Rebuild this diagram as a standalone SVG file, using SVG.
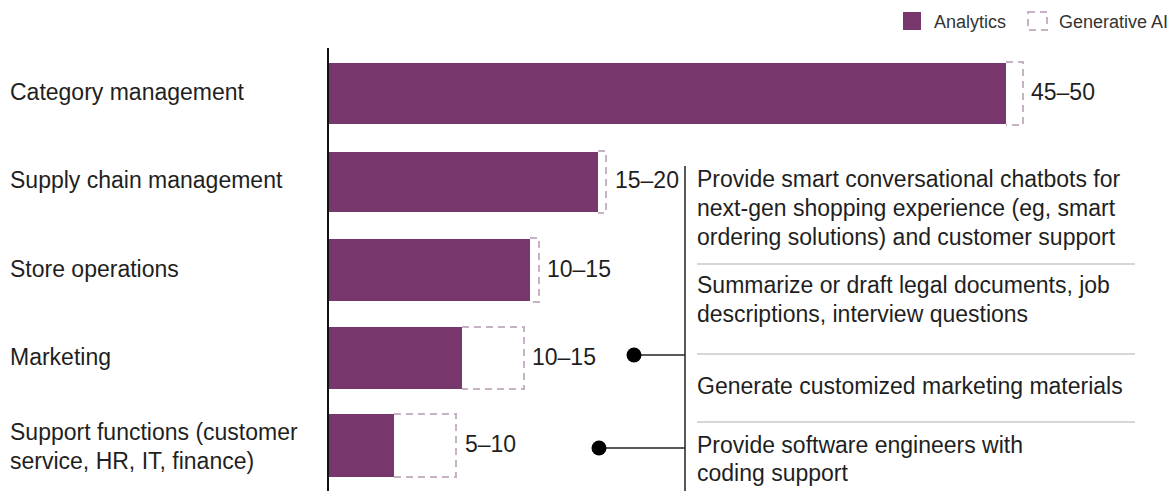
<svg xmlns="http://www.w3.org/2000/svg" width="1173" height="491" viewBox="0 0 1173 491">
<style>
.t{font-family:"Liberation Sans",Arial,sans-serif;fill:#1f1f1f;font-size:23px}
.lg{font-family:"Liberation Sans",Arial,sans-serif;fill:#333;font-size:18px}
.bar{fill:#77376d}
.gen{fill:none;stroke:#c7b1c4;stroke-width:2;stroke-dasharray:7,5}
.sep{stroke:#c8c8c8;stroke-width:1.5}
.ln{stroke:#222;stroke-width:1.5;fill:none}
.dot{fill:#000}
</style>
<rect width="1173" height="491" fill="#fff"/>
<g id="legend">
<rect x="903" y="12" width="18" height="18" fill="#77376d"/>
<text class="lg" x="934" y="28">Analytics</text>
<rect x="1028" y="12" width="19" height="18" class="gen" stroke-dasharray="6,5"/>
<text class="lg" x="1059" y="28">Generative AI</text>
</g>
<g id="axis"><line x1="328" y1="48" x2="328" y2="491" stroke="#111" stroke-width="2"/></g>
<g id="row-category">
<text class="t" x="10" y="100">Category management</text>
<rect class="bar" x="329" y="63" width="677" height="61"/>
<path class="gen" d="M1006,62 H1023 V125 H1006"/>
<text class="t" x="1031" y="100">45–50</text>
</g>
<g id="row-supply">
<text class="t" x="10" y="188">Supply chain management</text>
<rect class="bar" x="329" y="152" width="269" height="60"/>
<path class="gen" d="M598,151 H606 V213 H598"/>
<text class="t" x="615" y="188">15–20</text>
</g>
<g id="row-store">
<text class="t" x="10" y="277">Store operations</text>
<rect class="bar" x="329" y="239" width="201" height="62"/>
<path class="gen" d="M530,238 H539 V302 H530"/>
<text class="t" x="547" y="277">10–15</text>
</g>
<g id="row-marketing">
<text class="t" x="10" y="365">Marketing</text>
<rect class="bar" x="329" y="327" width="133" height="62"/>
<path class="gen" d="M462,327 H524 V389 H462"/>
<text class="t" x="532" y="365">10–15</text>
</g>
<g id="row-support">
<text class="t" x="10" y="440">Support functions (customer</text>
<text class="t" x="10" y="469">service, HR, IT, finance)</text>
<rect class="bar" x="329" y="414" width="65" height="63"/>
<path class="gen" d="M394,414 H456 V477 H394"/>
<text class="t" x="465" y="452">5–10</text>
</g>
<g id="connectors">
<line class="ln" x1="685" y1="166" x2="685" y2="491"/>
<line class="ln" x1="634" y1="355" x2="685" y2="355"/>
<circle class="dot" cx="634" cy="355" r="7.5"/>
<line class="ln" x1="599" y1="448" x2="685" y2="448"/>
<circle class="dot" cx="599" cy="448" r="7.5"/>
</g>
<g id="use-cases">
<text class="t" x="697" y="187">Provide smart conversational chatbots for</text>
<text class="t" x="697" y="216">next-gen shopping experience (eg, smart</text>
<text class="t" x="697" y="245">ordering solutions) and customer support</text>
<line class="sep" x1="697" y1="264" x2="1135" y2="264"/>
<text class="t" x="697" y="293">Summarize or draft legal documents, job</text>
<text class="t" x="697" y="322">descriptions, interview questions</text>
<line class="sep" x1="697" y1="354" x2="1135" y2="354"/>
<text class="t" x="697" y="394">Generate customized marketing materials</text>
<line class="sep" x1="697" y1="422" x2="1135" y2="422"/>
<text class="t" x="697" y="453">Provide software engineers with</text>
<text class="t" x="697" y="481">coding support</text>
</g>
</svg>
